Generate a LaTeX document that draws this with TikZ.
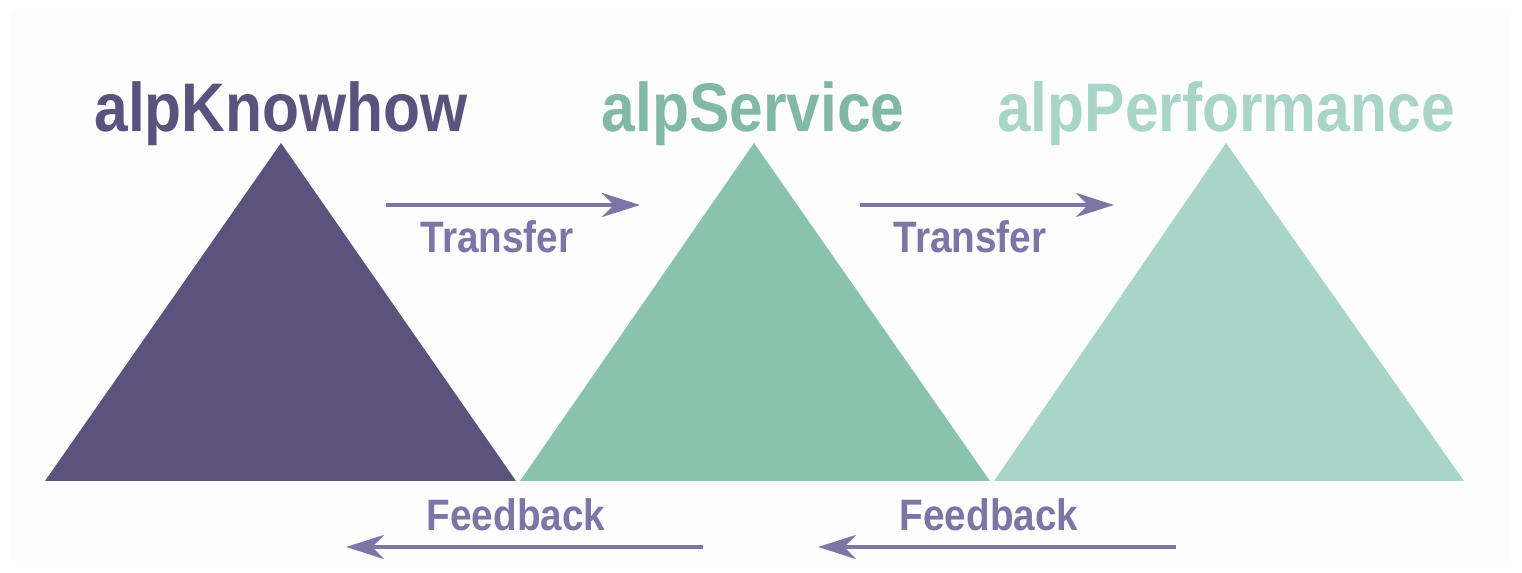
\documentclass[tikz,border=0pt]{standalone}
\usepackage{fontspec}
\newfontfamily\alpfont{Liberation Sans}[FakeStretch=0.88]
\usepackage{tikz}
\usetikzlibrary{arrows.meta}
\definecolor{knowhow}{HTML}{5B527E}
\definecolor{service}{HTML}{89C3AE}
\definecolor{performance}{HTML}{A9D5C8}
\definecolor{flow}{HTML}{7B76A6}
\definecolor{panel}{HTML}{FDFDFE}

\begin{document}
\begin{tikzpicture}[x=0.5pt,y=0.5pt,
    title/.style={
% The text:
font=\alpfont\bfseries\fontsize{34.4}{40}\selectfont,
% The anchor:
anchor=base, inner sep=0pt,
},
    flowlabel/.style={
% The text:
font=\alpfont\bfseries\fontsize{22}{26}\selectfont,
text=flow,
% The anchor:
anchor=base, inner sep=0pt,
},
    flowarrow/.style={
% The line:
draw=flow, line width=2.4pt,
% The tip:
-{Stealth[length=19pt,width=12pt,inset=6pt]},
},
]
  \useasboundingbox (0,0) rectangle (1522,573);
  \fill [panel] (11,10) rectangle (1510,563);

  % triangles
  \fill [knowhow]     (45,92)  -- (516,92)  -- (281,430) -- cycle;
  \fill [service]     (520,92) -- (990,92)  -- (754,430) -- cycle;
  \fill [performance] (994,92) -- (1464,92) -- (1226,430) -- cycle;

  % titles
  \node[title,text=knowhow]     (know) at (281, 441)  {alpKnowhow};
  \node[title,text=service!95!black] (serv) at (753, 441) {alpService};
  \node[title,text=performance] (perf) at (1226, 441) {alpPerformance};

  % transfer
  \coordinate (tr1a) at (386, 368);
  \coordinate (tr1b) at (640, 368);
  \coordinate (tr2a) at (860, 368);
  \coordinate (tr2b) at (1114, 368);
  \node[flowlabel] (tr1) at (497, 320) {Transfer};
  \node[flowlabel] (tr2) at (970, 320) {Transfer};
  \draw [flowarrow] (tr1a) -- (tr1b);
  \draw [flowarrow] (tr2a) -- (tr2b);

  % feedback
  \coordinate (fb1a) at (703, 26);
  \coordinate (fb1b) at (346, 26);
  \coordinate (fb2a) at (1176, 26);
  \coordinate (fb2b) at (818, 26);
  \node[flowlabel] (fb1) at (516, 42) {Feedback};
  \node[flowlabel] (fb2) at (989, 42) {Feedback};
  \draw [flowarrow] (fb1a) -- (fb1b);
  \draw [flowarrow] (fb2a) -- (fb2b);

\end{tikzpicture}
\end{document}
